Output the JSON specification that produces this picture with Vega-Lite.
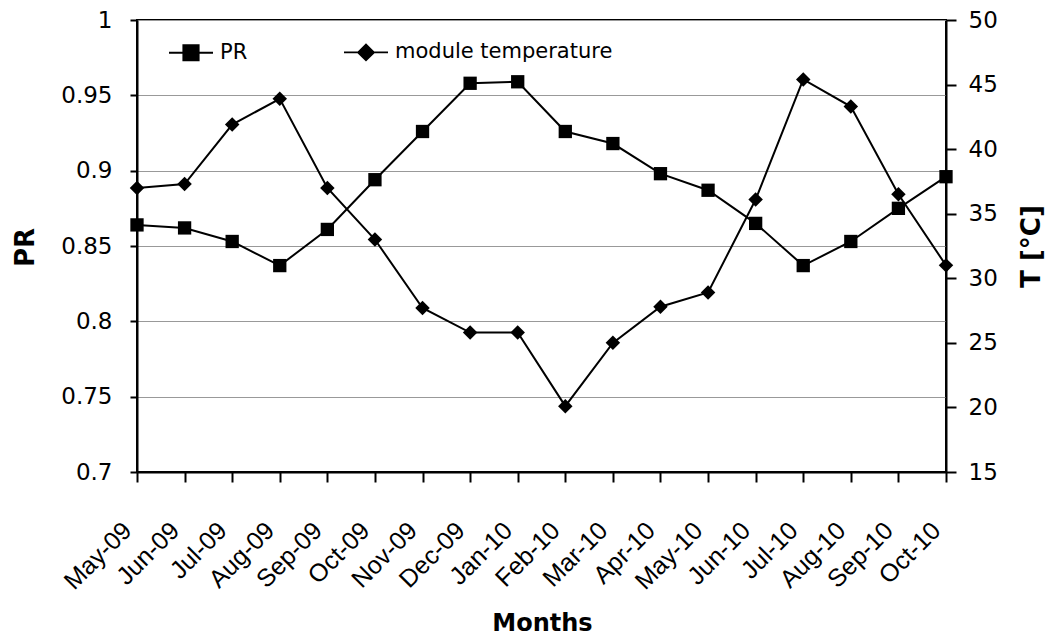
{
  "$schema": "https://vega.github.io/schema/vega-lite/v6.json",
  "width": 809,
  "height": 452,
  "autosize": {"type": "none"},
  "padding": {"left": 137, "top": 20, "right": 107, "bottom": 167},
  "background": "white",
  "config": {
    "font": "DejaVu Sans",
    "view": {"stroke": "black", "strokeWidth": 2},
    "axis": {"labelColor": "black", "titleColor": "black", "domainColor": "black", "tickColor": "black", "domainWidth": 2, "tickWidth": 2}
  },
  "datasets": {
    "main": [
      {"month": "May-09", "PR": 0.864, "T": 37.0},
      {"month": "Jun-09", "PR": 0.862, "T": 37.3},
      {"month": "Jul-09", "PR": 0.853, "T": 41.9},
      {"month": "Aug-09", "PR": 0.837, "T": 43.9},
      {"month": "Sep-09", "PR": 0.861, "T": 37.0},
      {"month": "Oct-09", "PR": 0.894, "T": 33.0},
      {"month": "Nov-09", "PR": 0.926, "T": 27.7},
      {"month": "Dec-09", "PR": 0.958, "T": 25.8},
      {"month": "Jan-10", "PR": 0.959, "T": 25.8},
      {"month": "Feb-10", "PR": 0.926, "T": 20.1},
      {"month": "Mar-10", "PR": 0.918, "T": 25.0},
      {"month": "Apr-10", "PR": 0.898, "T": 27.8},
      {"month": "May-10", "PR": 0.887, "T": 28.9},
      {"month": "Jun-10", "PR": 0.865, "T": 36.1},
      {"month": "Jul-10", "PR": 0.837, "T": 45.4},
      {"month": "Aug-10", "PR": 0.853, "T": 43.3},
      {"month": "Sep-10", "PR": 0.875, "T": 36.5},
      {"month": "Oct-10", "PR": 0.896, "T": 31.0}
    ],
    "legendrows": [
      {"series": "PR"},
      {"series": "module temperature"}
    ]
  },
  "layer": [
    {
      "data": {"name": "main"},
      "layer": [
        {
          "mark": {"type": "line", "color": "black", "strokeWidth": 2},
          "encoding": {
            "x": {
              "field": "month", "type": "ordinal", "sort": null,
              "scale": {"type": "point", "padding": 0},
              "axis": {
                "title": "Months", "titleFontSize": 24, "titleFontWeight": "bold",
                "titleX": 405, "titleY": 158, "titleBaseline": "alphabetic", "titleAlign": "center",
                "labelAngle": -45, "labelAlign": "right", "labelBaseline": "middle",
                "labelFont": "Liberation Sans", "labelFontSize": 25, "labelPadding": 44, "labelOffset": -10, "tickSize": 10,
                "labelOverlap": false, "labelFlush": false, "labelBound": false, "grid": false
              }
            },
            "y": {
              "field": "PR", "type": "quantitative",
              "scale": {"domain": [0.7, 1], "zero": false, "nice": false},
              "axis": {
                "title": "PR", "titleFontSize": 26, "titleFontWeight": "bold",
                "titleAngle": 270, "titleX": -104, "titleY": 227, "titleAlign": "center", "titleBaseline": "alphabetic",
                "values": [0.7, 0.75, 0.8, 0.85, 0.9, 0.95, 1], "format": "~g",
                "labelFontSize": 23, "labelPadding": 18, "tickSize": 7,
                "grid": true, "gridColor": "#999999", "gridWidth": 1
              }
            }
          }
        },
        {
          "mark": {"type": "point", "shape": "square", "filled": true, "color": "black", "opacity": 1, "size": 177},
          "encoding": {
            "x": {"field": "month", "type": "ordinal", "sort": null},
            "y": {"field": "PR", "type": "quantitative"}
          }
        },
        {
          "data": {"name": "legendrows"},
          "mark": {"type": "point", "filled": true, "color": "black", "opacity": 0, "size": 1936},
          "encoding": {
            "shape": {
              "field": "series", "type": "nominal",
              "scale": {
                "domain": ["PR", "module temperature"],
                "range": [
                  "M-1,-0.045H1V0.045H-1ZM-0.39,-0.39H0.39V0.39H-0.39Z",
                  "M-1,-0.045H1V0.045H-1ZM-0.42,0L0,-0.42L0.42,0L0,0.42Z"
                ]
              },
              "legend": {
                "title": null, "orient": "none", "legendX": 31, "legendY": 9,
                "direction": "horizontal", "padding": 0, "columnPadding": 93,
                "symbolSize": 1936, "symbolFillColor": "black",
                "symbolOpacity": 1, "labelFontSize": 21, "labelColor": "black", "labelOffset": 6, "labelLimit": 400,
                "encode": {"symbols": {"update": {"opacity": {"value": 1}, "fill": {"value": "black"}}}}
              }
            }
          }
        }
      ]
    },
    {
      "data": {"name": "main"},
      "layer": [
        {
          "mark": {"type": "line", "color": "black", "strokeWidth": 2},
          "encoding": {
            "x": {"field": "month", "type": "ordinal", "sort": null},
            "y": {
              "field": "T", "type": "quantitative",
              "scale": {"domain": [15, 50], "zero": false, "nice": false},
              "axis": {
                "orient": "right",
                "title": "T [°C]", "titleFontSize": 26, "titleFontWeight": "bold",
                "titleAngle": 270, "titleX": 93, "titleY": 226, "titleAlign": "center", "titleBaseline": "alphabetic",
                "values": [15, 20, 25, 30, 35, 40, 45, 50],
                "labelFontSize": 23, "labelPadding": 12, "tickSize": 10, "grid": false
              }
            }
          }
        },
        {
          "mark": {"type": "point", "shape": "diamond", "filled": true, "color": "black", "opacity": 1, "size": 210},
          "encoding": {
            "x": {"field": "month", "type": "ordinal", "sort": null},
            "y": {"field": "T", "type": "quantitative"}
          }
        }
      ]
    }
  ],
  "resolve": {"scale": {"y": "independent"}}
}
